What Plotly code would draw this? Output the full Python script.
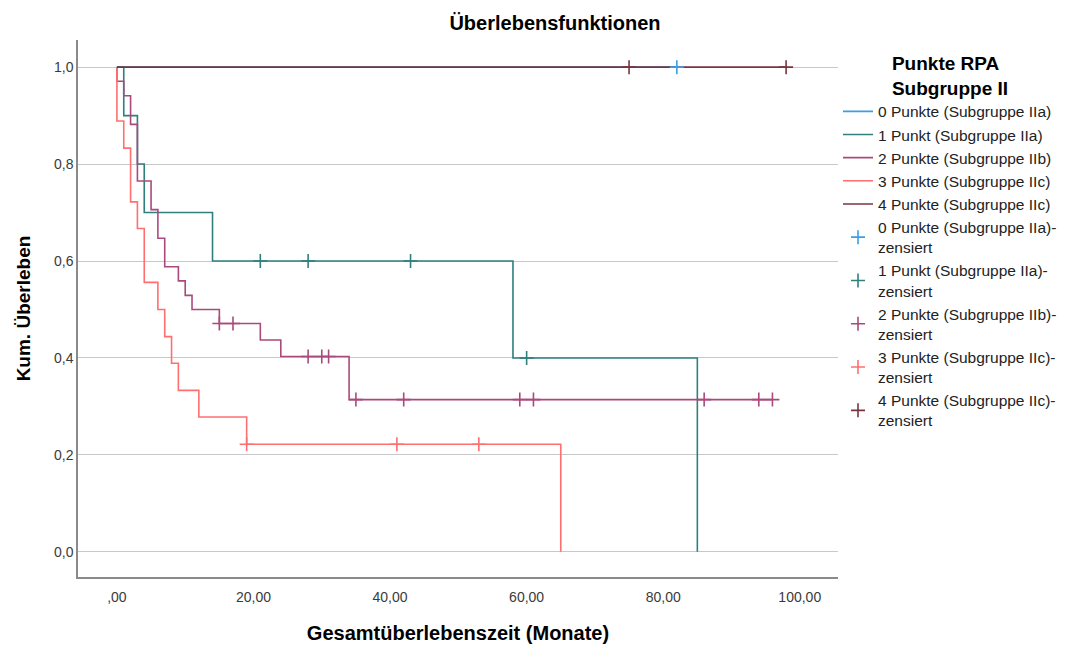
import plotly.graph_objects as go

# ---------------- data ----------------
group_names = [
    "0 Punkte (Subgruppe IIa)",
    "1 Punkt (Subgruppe IIa)",
    "2 Punkte (Subgruppe IIb)",
    "3 Punkte (Subgruppe IIc)",
    "4 Punkte (Subgruppe IIc)",
]
censor_names = [
    "0 Punkte (Subgruppe IIa)-<br>zensiert",
    "1 Punkt (Subgruppe IIa)-<br>zensiert",
    "2 Punkte (Subgruppe IIb)-<br>zensiert",
    "3 Punkte (Subgruppe IIc)-<br>zensiert",
    "4 Punkte (Subgruppe IIc)-<br>zensiert",
]

# event times and survival after each event (curves start at t=0, S=1)
g0_times = []
g0_surv = []
g0_end = 82

g1_times = [1, 3, 4, 14, 58, 85]
g1_surv = [0.900, 0.800, 0.700, 0.600, 0.400, 0.000]
g1_end = 85

g2_times = [0, 1, 2, 3, 5, 6, 7, 9, 10, 11, 15, 21, 24, 34]
g2_surv = [0.971, 0.941, 0.882, 0.765, 0.706, 0.647, 0.588, 0.559, 0.529,
           0.500, 0.471, 0.437, 0.403, 0.314]
g2_end = 96

g3_times = [0, 1, 2, 3, 4, 6, 7, 8, 9, 12, 19, 65]
g3_surv = [0.889, 0.833, 0.722, 0.667, 0.556, 0.500, 0.444, 0.389, 0.333,
           0.278, 0.222, 0.000]
g3_end = 65

g4_times = []
g4_surv = []
g4_end = 98

# censored observations
c0_times = [82]
c0_surv = [1.0]
c1_times = [21, 28, 43, 60]
c1_surv = [0.600, 0.600, 0.600, 0.400]
c2_times = [15, 17, 28, 30, 31, 35, 42, 59, 61, 86, 94, 96]
c2_surv = [0.471, 0.471, 0.403, 0.403, 0.403, 0.314, 0.314, 0.314, 0.314,
           0.314, 0.314, 0.314]
c3_times = [19, 41, 53]
c3_surv = [0.222, 0.222, 0.222]
c4_times = [75, 98]
c4_surv = [1.0, 1.0]

x_tickvals = [0, 20, 40, 60, 80, 100]
x_ticktext = [",00", "20,00", "40,00", "60,00", "80,00", "100,00"]
y_tickvals = [0.0, 0.2, 0.4, 0.6, 0.8, 1.0]
y_ticktext = ["0,0", "0,2", "0,4", "0,6", "0,8", "1,0"]

colors = ["#3a9ee8", "#2f7f7d", "#aa4a7c", "#ff6f6f", "#7a3440"]

# ---------------- figure ----------------
curves = [
    (g0_times, g0_surv, g0_end),
    (g1_times, g1_surv, g1_end),
    (g2_times, g2_surv, g2_end),
    (g3_times, g3_surv, g3_end),
    (g4_times, g4_surv, g4_end),
]
censors = [
    (c0_times, c0_surv),
    (c1_times, c1_surv),
    (c2_times, c2_surv),
    (c3_times, c3_surv),
    (c4_times, c4_surv),
]

fig = go.Figure()

for name, col, (t, s, end) in zip(group_names, colors, curves):
    xs = [0] + list(t)
    ys = [1.0] + list(s)
    if xs[-1] < end:
        xs.append(end)
        ys.append(ys[-1])
    fig.add_trace(go.Scatter(
        x=xs, y=ys, mode="lines", name=name,
        line=dict(color=col, width=1.6, shape="hv"),
        hoverinfo="skip",
    ))

for name, col, (t, s) in zip(censor_names, colors, censors):
    fig.add_trace(go.Scatter(
        x=t, y=s, mode="markers", name=name,
        marker=dict(symbol="cross-thin", size=10,
                    line=dict(color=col, width=1.6), color=col),
        hoverinfo="skip",
    ))

font_family = "Liberation Sans, Arial, sans-serif"

fig.update_layout(
    width=1075, height=648,
    margin=dict(l=78, r=237, t=40, b=71, autoexpand=False),
    paper_bgcolor="white",
    plot_bgcolor="white",
    font=dict(family=font_family, color="#000000"),
    title=dict(
        text="<b>Überlebensfunktionen</b>",
        x=555 / 1075, xref="container", xanchor="center",
        y=1 - 23 / 648, yref="container", yanchor="middle",
        font=dict(size=20, color="#000000"),
    ),
    xaxis=dict(
        range=[-5.7, 105.6],
        tickvals=x_tickvals, ticktext=x_ticktext,
        showgrid=False, zeroline=False, automargin=False,
        showline=True, linecolor="#8a8a8a", linewidth=1.5,
        ticks="", tickfont=dict(size=14, color="#3a3a3a"),
        ticklabelstandoff=6,
        title=dict(text="<b>Gesamtüberlebenszeit (Monate)</b>",
                   font=dict(size=20, color="#000000"), standoff=22),
    ),
    yaxis=dict(
        range=[-0.052, 1.056],
        tickvals=y_tickvals, ticktext=y_ticktext,
        showgrid=True, gridcolor="#c8c8c8", gridwidth=1,
        zeroline=False, automargin=False,
        showline=True, linecolor="#8a8a8a", linewidth=1.5,
        ticks="", tickfont=dict(size=14, color="#3a3a3a"),
        title=dict(text="<b>Kum. Überleben</b>",
                   font=dict(size=19, color="#000000"), standoff=18),
    ),
    legend=dict(
        x=1.0, xanchor="left", y=0.99, yanchor="top",
        bgcolor="rgba(0,0,0,0)",
        font=dict(size=15.5, color="#222222"),
        title=dict(text="<b>Punkte RPA<br>Subgruppe II</b>",
                   side="top center",
                   font=dict(size=19, color="#000000")),
        tracegroupgap=0,
        itemwidth=30,
    ),
    showlegend=True,
)

fig.write_html("out.html")
